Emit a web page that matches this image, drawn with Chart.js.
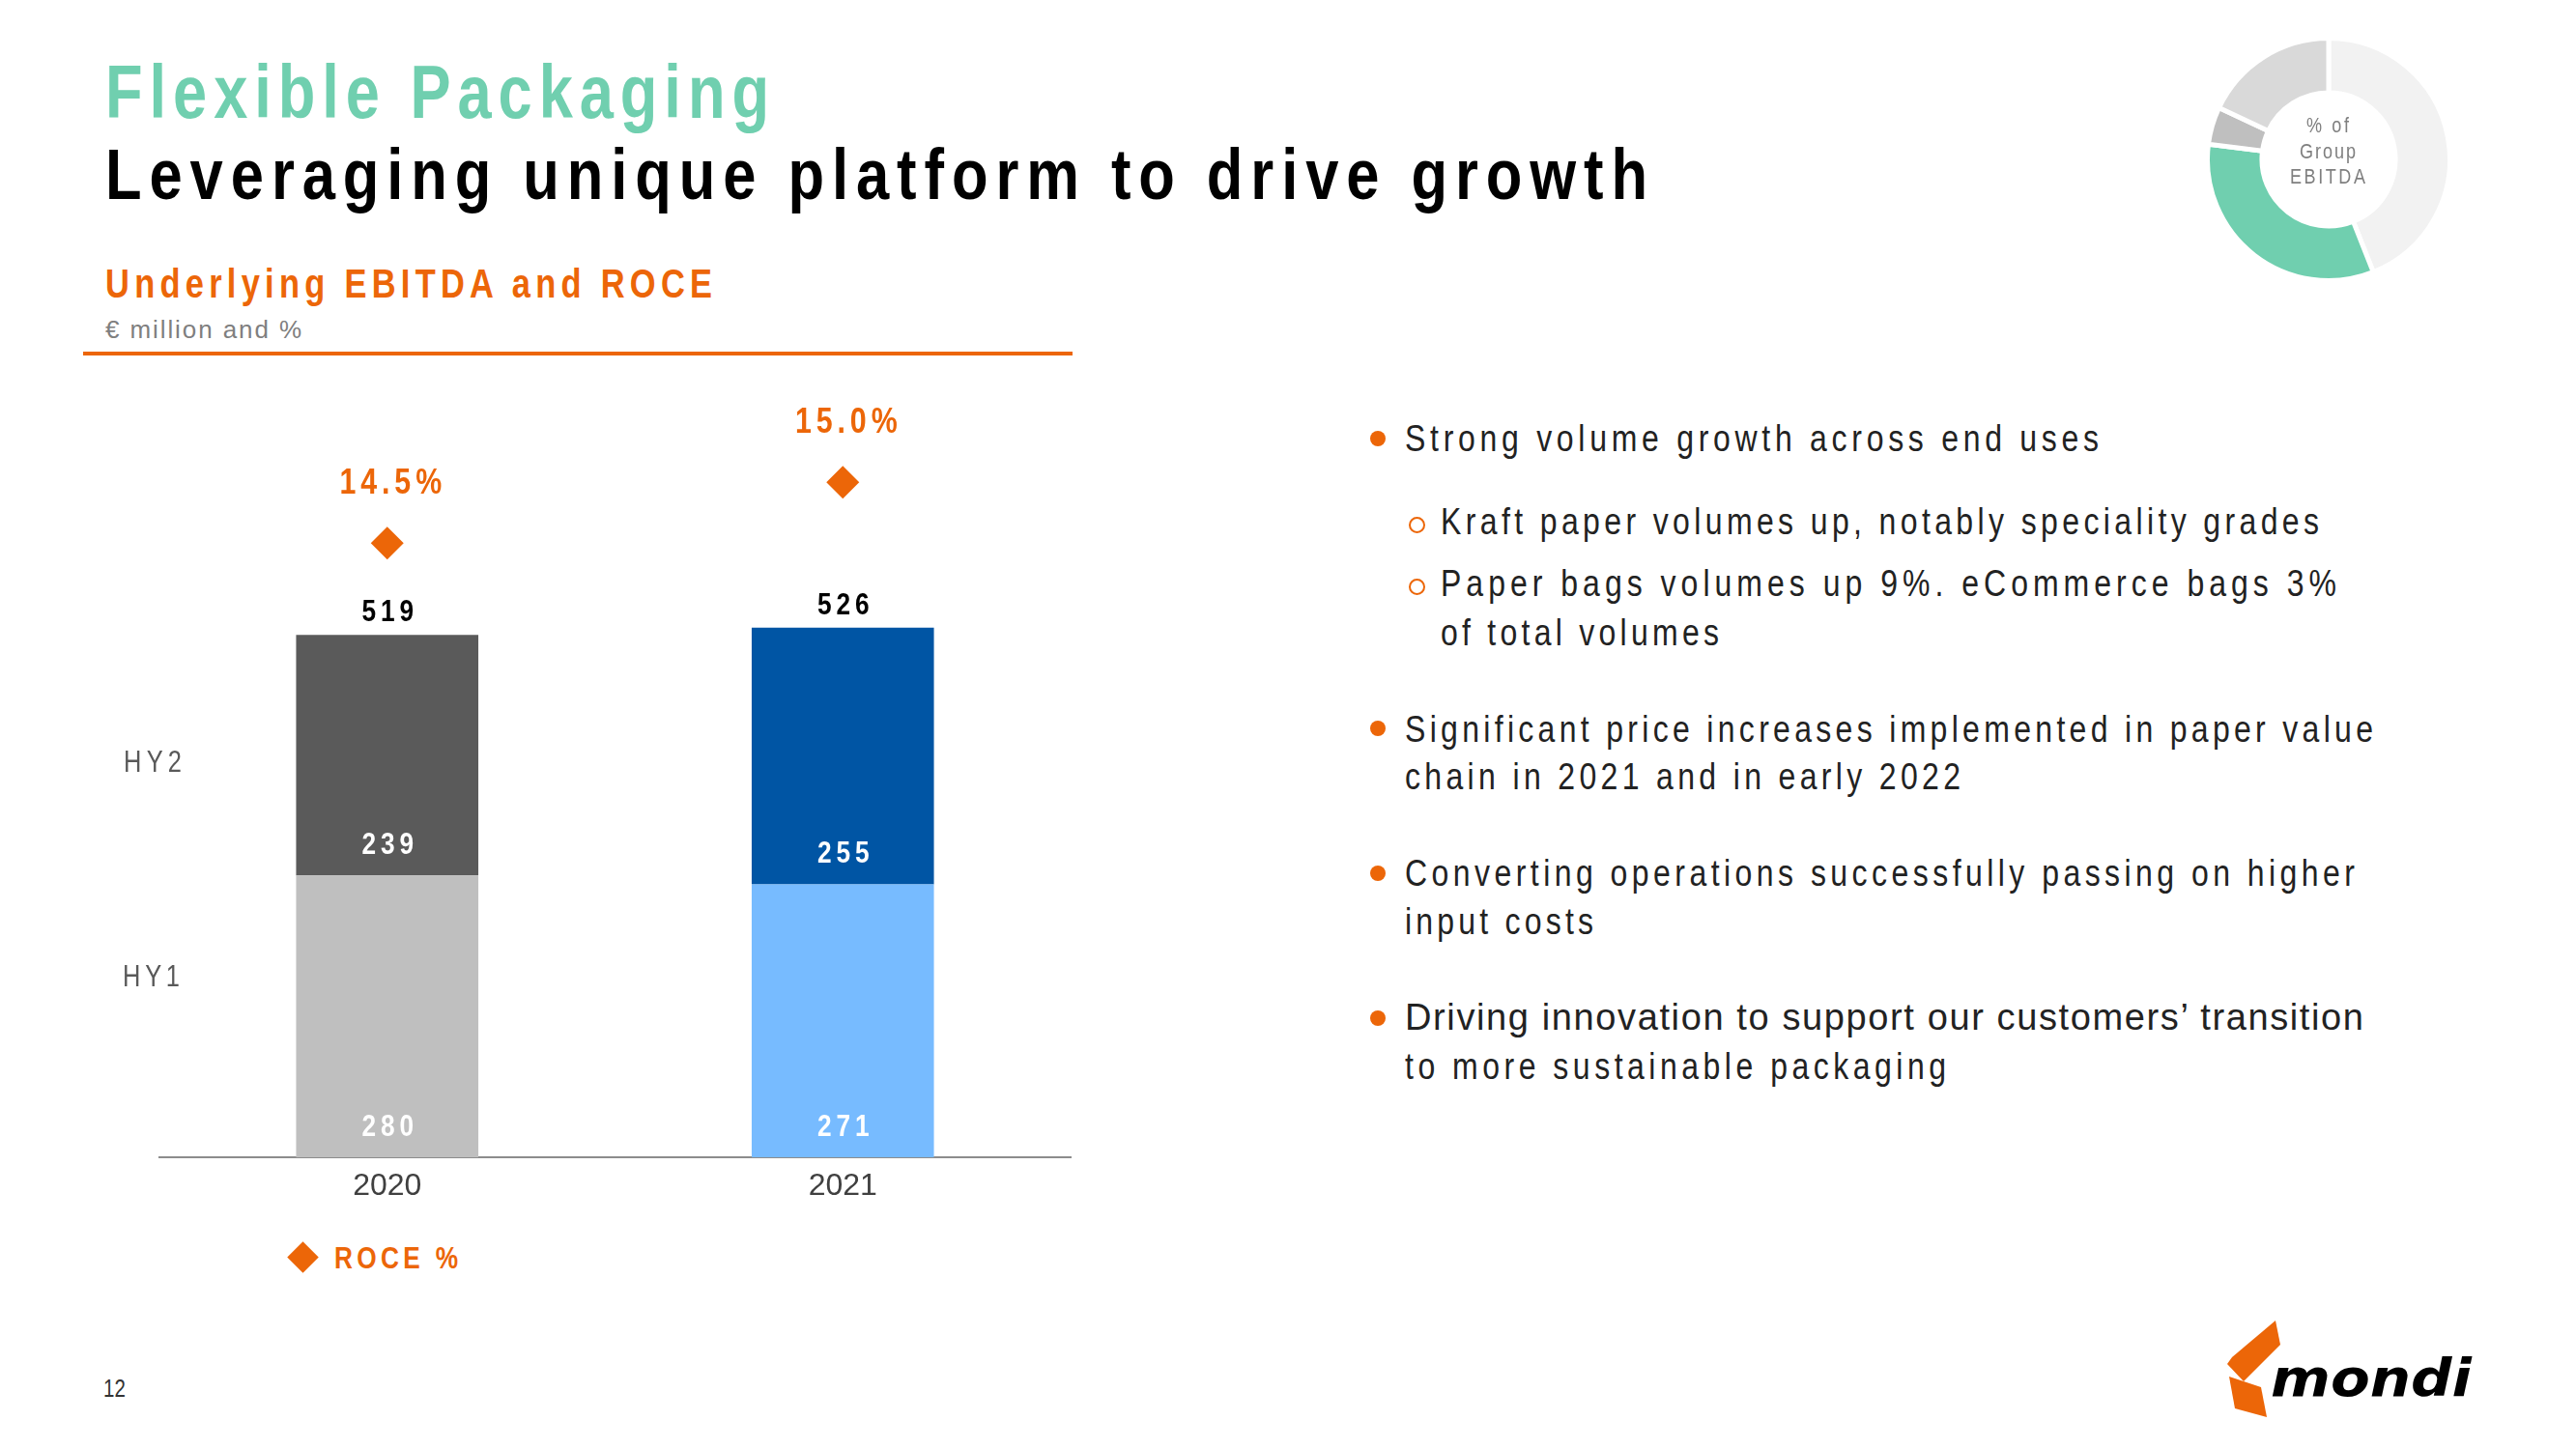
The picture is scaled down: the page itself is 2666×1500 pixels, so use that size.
<!DOCTYPE html>
<html>
<head>
<meta charset="utf-8">
<script src="https://cdn.jsdelivr.net/npm/chart.js@4.4.1/dist/chart.umd.min.js"></script>
<style>
  html, body { margin: 0; padding: 0; background: #fff; }
  #page { position: relative; width: 2666px; height: 1500px; overflow: hidden;
          font-family: 'Liberation Sans', Arial, sans-serif; }
  .t { position: absolute; white-space: nowrap; line-height: 1; transform-origin: 0 0; }
  #bars { position: absolute; left: 0; top: 380px; }
  #donut { position: absolute; left: 2282px; top: 37px; }
  #logo { position: absolute; left: 2290px; top: 1355px; }
</style>
</head>
<body>
<div id="page">
  <canvas id="bars" width="1130" height="900"></canvas>
  <canvas id="donut" width="256" height="256"></canvas>
  <svg id="logo" width="290" height="125" viewBox="0 0 290 125">
    <polygon points="65,12 70,37 32,75 15,57 20,50" fill="#EC6608"/>
    <polygon points="17,70 50,81 56,112 23,103" fill="#EC6608"/>
    <text x="60" y="90" font-family="'DejaVu Sans', sans-serif" font-weight="bold" font-style="italic"
          font-size="54" textLength="208" lengthAdjust="spacingAndGlyphs" fill="#000">mondi</text>
  </svg>
</div>

<script>
const years = ['2020', '2021'];
const hy1 = [280, 271];
const hy2 = [239, 255];
const totals = [519, 526];
const roce = [14.5, 15.0];
const roceLabels = ['14.5%', '15.0%'];

const hy1Colors = ['#BFBFBF', '#77BBFF'];
const hy2Colors = ['#5A5A5A', '#0055A4'];

const segments = ['Corrugated Packaging', 'Flexible Packaging', 'Engineered Materials', 'Uncoated Fine Paper'];
const segmentShare = [44, 33, 5, 18];
const segmentColors = ['#F2F2F2', '#70CFAF', '#BFBFBF', '#D9D9D9'];

const ORANGE = '#EC6608';
const TEAL = '#70CFAF';
const FONT = "'Liberation Sans', Arial, sans-serif";
const NARROW = 0.82; // condensed look of the slide font

const page = document.getElementById('page');

// positioned text; w = target ink width (letter spacing is stretched to reach it)
function txt(s, x, cy, size, color, w, opts = {}) {
    const sx = opts.wide ? 1 : NARROW;
    const el = document.createElement('div');
    el.className = 't';
    el.textContent = s;
    el.style.fontSize = size + 'px';
    el.style.color = color;
    el.style.fontWeight = opts.bold ? 'bold' : 'normal';
    el.style.top = (cy - 0.49 * size) + 'px';
    el.style.transform = `scaleX(${sx})`;
    page.appendChild(el);
    const natural = el.getBoundingClientRect().width;
    const n = [...s].length;
    if (w && n > 1) el.style.letterSpacing = ((w - natural) / (sx * (n - 1))) + 'px';
    el.style.left = (opts.center ? x - (w || natural) / 2 : x) + 'px';
    return el;
}

// header
txt('Flexible Packaging', 109, 95, 77, TEAL, 687, { bold: true });
txt('Leveraging unique platform to drive growth', 109, 180, 75, '#000', 1596, { bold: true });
txt('Underlying EBITDA and ROCE', 109, 294, 42, ORANGE, 628, { bold: true });
txt('€ million and %', 109, 341, 26, '#7F7F7F', 203, { wide: true });

const rule = document.createElement('div');
rule.style.cssText = `position:absolute;left:86px;top:364px;width:1024px;height:4px;background:${ORANGE}`;
page.appendChild(rule);

// chart side labels and legend
txt('HY2', 128, 788, 31, '#595959', 60);
txt('HY1', 127, 1010, 31, '#595959', 59);

const diamond = document.createElement('div');
diamond.style.cssText = `position:absolute;left:302px;top:1290px;width:23px;height:23px;background:${ORANGE};transform:rotate(45deg)`;
page.appendChild(diamond);
txt('ROCE %', 346, 1302, 32, ORANGE, 128, { bold: true });

txt('12', 107, 1437, 25, '#333', 0);

// donut centre
txt('% of', 2409, 130, 22, '#7F7F7F', 44, { center: true });
txt('Group', 2409, 157, 22, '#7F7F7F', 58, { center: true });
txt('EBITDA', 2409, 183, 22, '#7F7F7F', 78, { center: true });

// bullets
const TXT = '#222';
function dot(x, cy) {
    const d = document.createElement('div');
    d.style.cssText = `position:absolute;left:${x - 8}px;top:${cy - 8}px;width:16px;height:16px;border-radius:50%;background:${ORANGE}`;
    page.appendChild(d);
}
function ring(x, cy) {
    const d = document.createElement('div');
    d.style.cssText = `position:absolute;left:${x - 8}px;top:${cy - 7}px;width:13px;height:13px;border-radius:50%;border:2px solid ${ORANGE}`;
    page.appendChild(d);
}

dot(1426, 454);
txt('Strong volume growth across end uses', 1454, 453, 39, TXT, 718);
ring(1466, 542);
txt('Kraft paper volumes up, notably speciality grades', 1491, 539, 39, TXT, 909);
ring(1466, 606);
txt('Paper bags volumes up 9%. eCommerce bags 3%', 1491, 603, 39, TXT, 927);
txt('of total volumes', 1491, 654, 39, TXT, 288);

dot(1426, 754);
txt('Significant price increases implemented in paper value', 1454, 754, 39, TXT, 1002);
txt('chain in 2021 and in early 2022', 1454, 803, 39, TXT, 575);

dot(1426, 904);
txt('Converting operations successfully passing on higher', 1454, 903, 39, TXT, 983);
txt('input costs', 1454, 953, 39, TXT, 195);

dot(1426, 1054);
txt('Driving innovation to support our customers\u2019 transition', 1454, 1053, 38, TXT, 992, { wide: true });
txt('to more sustainable packaging', 1454, 1103, 39, TXT, 560);

// condensed, spaced canvas text centred on (x, y)
function narrowText(ctx, s, x, y) {
    ctx.save();
    ctx.translate(x + 3, y);
    ctx.scale(NARROW, 1);
    ctx.fillText(s, 0, 0);
    ctx.restore();
}

// value labels on the bars and ROCE points
const barLabels = {
    id: 'barLabels',
    afterDatasetsDraw(chart) {
        const { ctx } = chart;
        const m1 = chart.getDatasetMeta(0);
        const m2 = chart.getDatasetMeta(1);
        const m3 = chart.getDatasetMeta(2);
        ctx.save();
        ctx.textAlign = 'center';
        ctx.textBaseline = 'middle';
        ctx.letterSpacing = '6px';
        years.forEach((yr, i) => {
            const b1 = m1.data[i], b2 = m2.data[i], p = m3.data[i];
            ctx.font = `bold 32px ${FONT}`;
            ctx.fillStyle = '#fff';
            narrowText(ctx, String(hy1[i]), b1.x, b1.base - 31);
            narrowText(ctx, String(hy2[i]), b2.x, b2.base - 31);
            ctx.fillStyle = '#000';
            narrowText(ctx, String(totals[i]), b2.x, b2.y - 23);
            ctx.font = `bold 37px ${FONT}`;
            ctx.fillStyle = ORANGE;
            narrowText(ctx, roceLabels[i], p.x + 3, p.y - 61);
        });
        ctx.restore();
    }
};

new Chart(document.getElementById('bars'), {
    type: 'bar',
    data: {
        labels: years,
        datasets: [
            { label: 'HY1', data: hy1, backgroundColor: hy1Colors, stack: 'ebitda', order: 2 },
            { label: 'HY2', data: hy2, backgroundColor: hy2Colors, stack: 'ebitda', order: 2 },
            {
                type: 'line',
                label: 'ROCE %',
                data: roce,
                yAxisID: 'y1',
                showLine: false,
                pointStyle: 'rectRot',
                pointRadius: 17,
                pointBackgroundColor: ORANGE,
                pointBorderWidth: 0,
                order: 1,
            },
        ]
    },
    options: {
        responsive: false,
        animation: false,
        layout: { padding: { left: 165, right: 22, top: 26, bottom: 21.6 } },
        datasets: { bar: { categoryPercentage: 1, barPercentage: 0.4 } },
        plugins: {
            legend: { display: false },
            tooltip: { enabled: false },
        },
        scales: {
            x: {
                stacked: true,
                grid: { display: false, drawTicks: false },
                border: { display: true, color: '#8C8C8C', width: 2 },
                ticks: { color: '#404040', padding: 11, font: { size: 32, family: FONT } },
            },
            y: { stacked: true, display: false, min: 0, max: 760 },
            y1: { display: false, min: 9.45, max: 15.74 },
        }
    },
    plugins: [barLabels]
});

new Chart(document.getElementById('donut'), {
    type: 'doughnut',
    data: {
        labels: segments,
        datasets: [{
            data: segmentShare,
            backgroundColor: segmentColors,
            borderColor: '#fff',
            borderWidth: 5,
        }]
    },
    options: {
        responsive: false,
        animation: false,
        cutout: '55%',
        plugins: {
            legend: { display: false },
            tooltip: { enabled: false },
        }
    }
});
</script>
</body>
</html>
